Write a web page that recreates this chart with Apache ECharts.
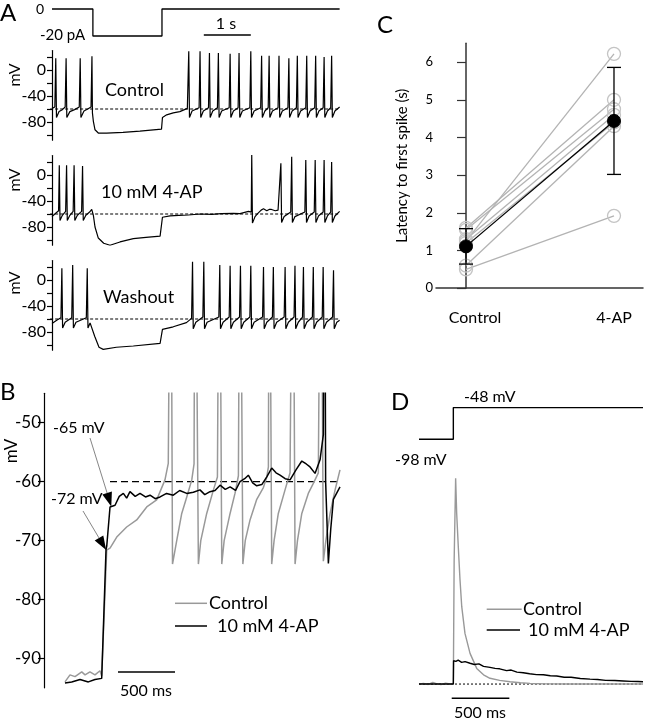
<!DOCTYPE html>
<html><head><meta charset="utf-8">
<script src="https://cdn.jsdelivr.net/npm/echarts@6/dist/echarts.min.js"></script>
<style>html,body{margin:0;padding:0;background:#fff}#c{width:645px;height:720px}</style>
</head><body><div id="c"></div>
<script>
// ---------- Panel A : current step (pA) vs time (s) ----------
const stepA = [[0,0],[0.87,0],[0.87,-20],[2.34,-20],[2.34,0],[6.12,0]];
const scaleBarA = [[3.23,-19.3],[4.23,-19.3]];           // 1 s
const dashA = [[-0.04,-60],[6.12,-60]];
const tickValuesA = [-100,-80,-60,-40,-20,0,20];
const labelValuesA = [-80,-40,0];
// membrane potential traces (s, mV)
const controlA = [[0,-59],[0.06,-57],[0.08,18],[0.095,-73],[0.15,-64],[0.22,-61],[0.28,-57],[0.30,18],[0.315,-73],[0.38,-64],[0.48,-61],[0.58,-57],[0.60,18],[0.615,-73],[0.68,-63],[0.76,-60],[0.83,-57],[0.85,21],[0.86,-66],[0.88,-79],[0.915,-92],[0.985,-97],[1.16,-97],[1.51,-96],[1.87,-94],[2.1,-92.5],[2.33,-91],[2.35,-73],[2.44,-69],[2.58,-66],[2.72,-64],[2.88,-59],
[2.91,29],[2.925,-73],[2.98,-63],[3.13,-58],[3.15,29],[3.165,-73],[3.22,-63],[3.33,-58],[3.35,26],[3.365,-73],[3.42,-63],[3.52,-58],[3.54,26],[3.555,-73],[3.61,-63],[3.77,-58],[3.79,25],[3.805,-73],[3.86,-63],[3.96,-58],[3.98,26],[3.995,-73],[4.05,-63],[4.21,-58],[4.23,29],[4.245,-73],[4.30,-63],[4.44,-58],[4.46,22],[4.475,-73],[4.53,-63],[4.60,-58],[4.62,22],[4.635,-73],[4.69,-63],[4.81,-58],[4.83,22],[4.845,-73],[4.90,-63],[5.02,-58],[5.04,18],[5.055,-73],[5.11,-63],[5.20,-58],[5.22,22],[5.235,-73],[5.29,-63],[5.40,-58],[5.42,22],[5.435,-73],[5.49,-63],[5.59,-58],[5.61,22],[5.625,-73],[5.68,-63],[5.77,-58],[5.79,20],[5.805,-73],[5.86,-63],[5.93,-58],[5.95,22],[5.965,-73],[6.02,-63],[6.12,-57]];
const apA = [[0,-64],[0.06,-60],[0.14,-55],[0.155,15],[0.17,-70],[0.22,-62],[0.29,-56],[0.31,15],[0.325,-70],[0.38,-62],[0.45,-56],[0.47,15],[0.485,-70],[0.54,-62],[0.63,-56],[0.65,14],[0.665,-70],[0.72,-62],[0.80,-57],[0.845,-53],[0.88,-62],[0.915,-80],[0.985,-97],[1.1,-105],[1.234,-108],[1.447,-103],[1.73,-98],[2.0,-96],[2.30,-94],[2.35,-65],[2.51,-63],[2.7,-62],[2.9,-61.5],[3.15,-60],[3.4,-60.5],[3.6,-59.5],[3.86,-59],[4.0,-59.5],[4.18,-56],[4.24,-57],[4.25,31],[4.265,-74],[4.32,-64],[4.38,-59],[4.45,-54],[4.50,-52],[4.57,-55],[4.62,-53],[4.67,-53],[4.75,-55],[4.81,-54],[4.85,-52],[4.87,18],[4.885,-73],[4.94,-64],[5.08,-57],[5.10,28],[5.115,-73],[5.17,-64],[5.38,-57],[5.40,23],[5.415,-73],[5.47,-63],[5.58,-57],[5.60,23],[5.615,-73],[5.67,-63],[5.77,-57],[5.79,23],[5.805,-73],[5.86,-63],[5.93,-57],[5.95,20],[5.965,-73],[6.02,-63],[6.12,-56]];
const washA = [[0,-67],[0.1,-62],[0.19,-58],[0.21,18],[0.225,-74],[0.28,-65],[0.42,-58],[0.44,23],[0.455,-74],[0.51,-65],[0.73,-58],[0.75,18],[0.765,-74],[0.81,-66],[0.845,-64],[0.91,-87],[1.0,-103.5],[1.09,-106.7],[1.37,-103.5],[1.73,-101.5],[2.30,-97.4],[2.35,-76],[2.58,-72],[2.86,-65.6],[2.97,-59],
[2.99,28],[3.005,-75],[3.06,-65],[3.21,-57],[3.23,28],[3.245,-75],[3.30,-65],[3.55,-57],[3.57,23],[3.585,-75],[3.64,-65],[3.77,-57],[3.79,22],[3.805,-75],[3.86,-65],[3.99,-57],[4.01,22],[4.025,-75],[4.08,-65],[4.21,-57],[4.23,22],[4.245,-75],[4.30,-65],[4.48,-57],[4.50,20],[4.515,-75],[4.57,-65],[4.69,-57],[4.71,20],[4.725,-75],[4.78,-65],[4.94,-57],[4.96,20],[4.975,-75],[5.03,-65],[5.15,-57],[5.17,22],[5.185,-75],[5.24,-65],[5.33,-57],[5.35,20],[5.365,-75],[5.42,-65],[5.54,-57],[5.56,20],[5.575,-75],[5.63,-65],[5.75,-57],[5.77,20],[5.785,-75],[5.84,-65],[5.97,-57],[5.99,15],[6.005,-75],[6.06,-65],[6.12,-62]];
const traceLabelsA = ['Control','10 mM 4-AP','Washout'];

// ---------- Panel B : expanded traces (ms, mV) ----------
const controlB = [[184,-94],[228,-92.8],[272,-93.1],[331,-92.3],[360,-92.8],[403,-92.3],[447,-92.8],[491,-92.1],[506,-93],[550,-71.6],[579,-71.3],[638,-69.4],[725,-67.7],[813,-66.5],[901,-64.3],[988,-63.1],[1061,-59.7],[1090,-56.9],
[1111,0],[1127,-74],[1164,-70],[1208,-65.4],[1252,-62.6],[1296,-59.7],[1316,-57],
[1325,0],[1354,-74],[1375,-70],[1427,-65.4],[1486,-61.4],[1521,-59.2],
[1538,0],[1559,-74],[1580,-70],[1632,-65.4],[1675,-62],[1705,-59],
[1719,0],[1744,-74],[1765,-70],[1807,-66.5],[1866,-63],[1924,-61],[1954,-59.2],[1968,-57.5],
[1976,0],[1997,-74],[2018,-70],[2055,-65.4],[2114,-61.4],[2158,-58.5],
[2182,0],[2202,-74],[2223,-70],[2261,-65.4],[2318,-62],[2362,-60.3],[2406,-58.5],
[2428,0],[2450,-73.5],[2472,-70],[2509,-65.4],[2553,-61.4],[2596,-58]];
const apB = [[184,-94.2],[243,-94.0],[316,-93.6],[389,-94.0],[447,-93.6],[506,-93.4],[544,-71.5],[550,-71],[579,-64.3],[623,-64],[660,-62.5],[696,-62],[725,-62.8],[754,-61.7],[800,-62.5],[842,-62],[890,-62.6],[930,-62.3],[975,-62.9],[1018,-62.6],[1075,-62],[1134,-62.3],[1190,-61.5],[1252,-62],[1310,-61.8],[1368,-61.4],[1410,-62.2],[1456,-61.7],[1500,-61.5],[1544,-60.6],[1590,-61.3],[1632,-60.9],[1680,-61.5],[1719,-60],[1760,-59.5],[1792,-58.9],[1830,-60.2],[1866,-60.7],[1910,-60.5],[1954,-59.2],[1997,-57.7],[2035,-58.5],[2070,-58.9],[2115,-59.5],[2158,-59.7],[2210,-58],[2261,-56.5],[2300,-57],[2333,-57.5],[2377,-58.6],[2421,-56.3],[2450,-52],[2460,0],[2470,-60],[2494,-73.9],[2515,-68],[2538,-63],[2596,-60.9]];
const dashB = [[579,-60],[2596,-60]];
const scaleBarB = [[649,-92.3],[1149,-92.3]];            // 500 ms
const tickValuesB = [-90,-80,-70,-60,-50];
const arrowTipsB = [[590,-64.2],[545,-71.6]];
const arrowLabelsB = ['-65 mV','-72 mV'];
const legendB = ['Control','10 mM 4-AP'];

// ---------- Panel C : latency to first spike (s) ----------
const categoriesC = ['Control','4-AP'];
const controlLatency = [1.25,1.6,1.55,1.3,1.2,0.6,0.5];
const apLatency = [6.22,5.0,4.75,4.6,4.4,4.3,1.92];
const meanLatency = [1.11,4.44];
const sdLatency = [0.47,1.42];
const tickValuesC = [0,1,2,3,4,5,6];

// ---------- Panel D : voltage step and current ----------
const stepD = [[0,-98],[298,-98],[298,-48],[1944,-48]];
const controlD = [[0,0],[40,0.3],[80,-0.2],[120,0.8],[150,0.2],[190,-0.3],[230,0.4],[270,0],[298,0],[305,60],[318,100],[327,83],[341,66.7],[356,50.6],[371,37.6],[399,24.6],[443,14.9],[501,7.6],[560,4.5],[616,2.8],[700,1.8],[790,1.1],[880,0.6],[963,0.3],[1100,0.1],[1300,0],[1944,0]];
const apD = [[0,0],[298,0],[300,11.3],[306,12.2],[320,11.0],[340,11.6],[370,10.5],[400,10.9],[443,10.1],[480,9.5],[520,9.8],[560,8.6],[616,8.1],[660,7.6],[700,7.4],[760,6.5],[800,6.8],[850,5.8],[905,5.5],[960,5.0],[1020,4.6],[1080,4.5],[1140,4.0],[1195,3.9],[1260,3.3],[1320,3.3],[1400,2.7],[1484,2.4],[1550,2.2],[1620,1.8],[1700,1.7],[1773,1.5],[1840,1.3],[1900,1.2],[1944,1.1]];
const dashD = [[0,0],[1944,0]];
const scaleBarD = [[284,-6.95],[784,-6.95]];             // 500 ms
const stepLabelsD = ['-48 mV','-98 mV'];

// ---------------- chart ----------------
const FF = 'Lato, "Noto Sans", sans-serif';
const BLACK = '#000', GREY = '#999';
const chart = echarts.init(document.getElementById('c'), null, {renderer:'canvas'});

const grids = [
  {left:49, top:4.95, width:291, height:35.1},    // 0 A current
  {left:49, top:50.5, width:291, height:89.7},    // 1 A control
  {left:49, top:155.5, width:291, height:89.7},   // 2 A 4-AP
  {left:49, top:260.5, width:291, height:89.7},   // 3 A washout
  {left:44, top:393.3, width:296, height:294.5},  // 4 B
  {left:436, top:43.3, width:207, height:244.9},  // 5 C
  {left:419, top:400, width:224, height:44.9},    // 6 D step
  {left:419, top:470.1, width:224, height:230.4}  // 7 D current
].map(g => Object.assign({outerBoundsMode:'none', containLabel:false, show:false}, g));

const hiddenX = (i,min,max) => ({gridIndex:i, type:'value', min, max, show:false});
const hiddenY = (i,min,max) => ({gridIndex:i, type:'value', min, max, show:false});
const visY = (i,min,max,ticks,labels,fs,tl) => ({gridIndex:i, type:'value', min, max,
  axisLine:{show:true, lineStyle:{color:BLACK, width:1.2}},
  axisTick:{show:true, length:tl, customValues:ticks, lineStyle:{color:BLACK, width:1.2}},
  axisLabel:{show:true, customValues:labels, fontSize:fs, color:BLACK, fontFamily:FF, margin:3},
  splitLine:{show:false}});

const xAxes = [
  hiddenX(0,-0.064,6.128), hiddenX(1,-0.064,6.128), hiddenX(2,-0.064,6.128), hiddenX(3,-0.064,6.128),
  hiddenX(4,0,2596),
  {gridIndex:5, type:'value', min:-0.2027, max:1.196,
    axisLine:{show:true, onZero:false, lineStyle:{color:'#333', width:1.5}},
    axisTick:{show:false}, splitLine:{show:false},
    axisLabel:{show:true, customValues:[0,1], margin:22, color:BLACK, fontSize:16, fontFamily:FF,
      formatter:v => v===0 ? '{a|'+categoriesC[0]+'}' : '{b|'+categoriesC[1]+'}',
      rich:{a:{padding:[0,0,0,18], fontSize:16, fontFamily:FF, color:BLACK}, b:{fontSize:16, fontFamily:FF, color:BLACK}}}},
  hiddenX(6,0,1944), hiddenX(7,0,1944)
];
const yAxes = [
  hiddenY(0,-23,3),
  visY(1,-108,30,tickValuesA,labelValuesA,16,5),
  visY(2,-108,30,tickValuesA,labelValuesA,16,5),
  visY(3,-108,30,tickValuesA,labelValuesA,16,5),
  visY(4,-95,-45,tickValuesB,tickValuesB,17,6),
  {gridIndex:5, type:'value', min:0, max:6.5,
    axisLine:{show:true, lineStyle:{color:'#333', width:1.5}},
    axisTick:{show:true, length:9, customValues:tickValuesC, lineStyle:{color:'#333', width:1.2}},
    axisLabel:{show:true, customValues:tickValuesC, fontSize:13, color:BLACK, fontFamily:FF, margin:3},
    splitLine:{show:false},
    name:'Latency to first spike (s)', nameLocation:'middle', nameGap:26,
    nameTextStyle:{fontSize:15, color:BLACK, fontFamily:FF}},
  hiddenY(6,-107,-36), hiddenY(7,-8,104)
];

function ln(i, data, color, width, dash, z) {
  return {type:'line', xAxisIndex:i, yAxisIndex:i, data, symbol:'none', showSymbol:false,
    lineStyle:{color, width, type: dash || 'solid'}, z: z||2, silent:true, animation:false, clip:true};
}

const series = [
  ln(0, stepA, BLACK, 1.3), ln(0, scaleBarA, BLACK, 1.5),
  ln(1, dashA, BLACK, 1.1, [3,2]), ln(1, controlA, BLACK, 1.2, null, 3),
  ln(2, dashA, BLACK, 1.1, [3,2]), ln(2, apA, BLACK, 1.2, null, 3),
  ln(3, dashA, BLACK, 1.1, [3,2]), ln(3, washA, BLACK, 1.2, null, 3),
  ln(4, dashB, BLACK, 1.2, [7,4]), ln(4, controlB, GREY, 1.5, null, 3), ln(4, apB, BLACK, 1.5, null, 4),
  ln(4, scaleBarB, BLACK, 1.5),
  ln(6, stepD, BLACK, 1.4),
  ln(7, dashD, BLACK, 1, [2,2]), ln(7, controlD, GREY, 1.4, null, 3), ln(7, apD, BLACK, 1.4, null, 4),
  ln(7, scaleBarD, BLACK, 1.5)
];
// Panel C individual cells
controlLatency.forEach((c,k) => {
  series.push({type:'line', xAxisIndex:5, yAxisIndex:5, data:[[0,c],[1,apLatency[k]]],
    symbol:'circle', symbolSize:13, showSymbol:true,
    itemStyle:{color:'rgba(255,255,255,0)', borderColor:'#c4c4c4', borderWidth:1.3},
    lineStyle:{color:'#b3b3b3', width:1.3}, z:2, silent:true, animation:false});
});
series.push({type:'line', xAxisIndex:5, yAxisIndex:5, data:meanLatency.map((m,i)=>[i,m]),
  symbol:'circle', symbolSize:13, itemStyle:{color:BLACK, borderColor:BLACK},
  lineStyle:{color:BLACK, width:1.3}, z:6, silent:true, animation:false});
series.push({type:'custom', xAxisIndex:5, yAxisIndex:5, data:meanLatency.map((m,i)=>[i,m,sdLatency[i]]),
  z:5, silent:true, animation:false,
  renderItem:(params, api) => {
    const x = api.value(0), m = api.value(1), s = api.value(2);
    const t = api.coord([x, m+s]), b = api.coord([x, m-s]); const w = 7;
    const st = {stroke:BLACK, lineWidth:1.3};
    return {type:'group', children:[
      {type:'line', shape:{x1:t[0], y1:t[1], x2:b[0], y2:b[1]}, style:st},
      {type:'line', shape:{x1:t[0]-w, y1:t[1], x2:t[0]+w, y2:t[1]}, style:st},
      {type:'line', shape:{x1:b[0]-w, y1:b[1], x2:b[0]+w, y2:b[1]}, style:st}]};
  }});

chart.setOption({animation:false, backgroundColor:'#fff', grid:grids, xAxis:xAxes, yAxis:yAxes, series});

// ---------- text and annotations ----------
const txt = (s, x, y, size, align, extra) => Object.assign({type:'text', x, y, silent:true, z:100,
  style:{text:s, fill:BLACK, fontSize:size, fontFamily:FF, align:align||'left', verticalAlign:'middle'}}, extra||{});
const g = [];
g.push(txt('A', 0, 13, 24)); g.push(txt('B', 0, 392, 24)); g.push(txt('C', 377, 25, 24)); g.push(txt('D', 391, 402, 24));
g.push(txt('0', 44, 9, 14, 'right')); g.push(txt('-20 pA', 40, 35, 15));
g.push(txt('1 s', 226, 24, 16, 'center'));
[75, 180, 283].forEach(y => g.push(txt('mV', 15, y, 16, 'center', {rotation:Math.PI/2})));
g.push(txt(traceLabelsA[0], 105, 90, 18));
g.push(txt(traceLabelsA[1], 101, 192, 18));
g.push(txt(traceLabelsA[2], 103, 297, 18));
g.push(txt('mV', 12, 451, 17, 'center', {rotation:Math.PI/2}));
g.push(txt('500 ms', 146, 691, 16, 'center'));
// legend B
g.push({type:'line', shape:{x1:175, y1:603.3, x2:207, y2:603.3}, style:{stroke:GREY, lineWidth:1.5}, silent:true});
g.push({type:'line', shape:{x1:175, y1:626, x2:207, y2:626}, style:{stroke:BLACK, lineWidth:1.5}, silent:true});
g.push(txt(legendB[0], 209, 603, 18)); g.push(txt(legendB[1], 217, 626, 18));
// arrows B
const starts = [[90, 438], [83, 511]];
arrowTipsB.forEach((tip, k) => {
  const p = chart.convertToPixel({gridIndex:4}, tip);
  const s = starts[k];
  const dx = p[0]-s[0], dy = p[1]-s[1], L = Math.hypot(dx,dy), ux = dx/L, uy = dy/L;
  const len = 14, hw = 5, bx = p[0]-ux*len, by = p[1]-uy*len;
  g.push({type:'line', shape:{x1:s[0], y1:s[1], x2:bx, y2:by}, style:{stroke:'#666', lineWidth:0.8}, silent:true});
  g.push({type:'polygon', shape:{points:[[p[0],p[1]],[bx-uy*hw, by+ux*hw],[bx+uy*hw, by-ux*hw]]}, style:{fill:BLACK}, silent:true});
});
g.push(txt(arrowLabelsB[0], 53, 428, 16));
g.push(txt(arrowLabelsB[1], 51, 499, 16));
// panel D texts
g.push(txt(stepLabelsD[0], 464, 397, 16)); g.push(txt(stepLabelsD[1], 395, 460, 16));
g.push(txt('500 ms', 480, 713, 16, 'center'));
g.push({type:'line', shape:{x1:486.7, y1:609.3, x2:521.7, y2:609.3}, style:{stroke:GREY, lineWidth:1.5}, silent:true});
g.push({type:'line', shape:{x1:486.7, y1:630, x2:520, y2:630}, style:{stroke:BLACK, lineWidth:1.5}, silent:true});
g.push(txt('Control', 523, 609, 18)); g.push(txt('10 mM 4-AP', 528, 630, 18));

chart.setOption({graphic:g});
</script></body></html>
